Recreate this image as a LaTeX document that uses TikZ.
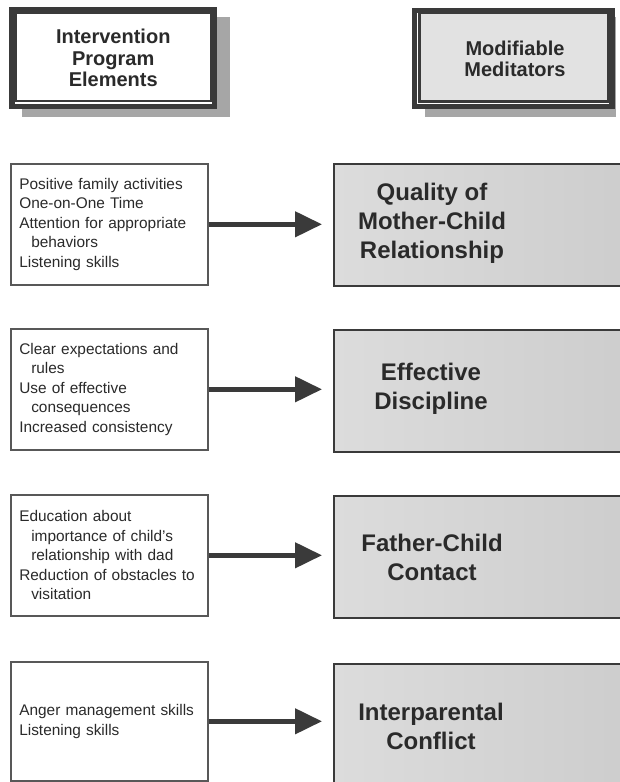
\documentclass[tikz,border=0pt]{standalone}
\usepackage{fontspec}
\setmainfont{Liberation Sans}
\usetikzlibrary{arrows.meta,calc}
\definecolor{ink}{HTML}{2A2A2A}
\definecolor{frame}{HTML}{3A3A3A}
\definecolor{shadowgray}{HTML}{A6A6A6}
\definecolor{fillA}{HTML}{DCDCDC}
\definecolor{fillB}{HTML}{CDCDCD}
\definecolor{hdrfill}{HTML}{E2E2E2}
\begin{document}
\begin{tikzpicture}[x=1pt,y=-1pt,
  header/.style={draw=frame, line width=5.5pt, minimum width=202.5pt,
    minimum height=96.5pt, align=center, text=ink, inner sep=0pt,
    font=\bfseries\fontsize{20}{21.5}\selectfont},
  element/.style={draw=frame!85, line width=1.6pt, fill=white,
    minimum width=197pt, minimum height=121pt, inner xsep=8.5pt,
    text width=180pt, align=left, anchor=north west, text=ink,
    font=\fontsize{15.4}{19.5}\selectfont},
  mediator/.style={draw=frame, line width=1.8pt, left color=fillA,
    right color=fillB, minimum width=300pt, minimum height=122pt,
    anchor=north west, inner sep=0pt},
  medlabel/.style={align=center, text=ink, inner sep=0pt,
    font=\bfseries\fontsize{24}{29}\selectfont},
  link/.style={draw=frame, line width=4.5pt,
    -{Triangle[length=27pt,width=25pt]}, shorten >=11pt}]
\useasboundingbox (0,0) rectangle (619,782);

% column headers with drop shadows and double frames
\fill[shadowgray] (22,17) rectangle (230,117);
\node[header, fill=white] (hdrL) at (113.25,58.25)
  {Intervention\\Program\\Elements};
\draw[frame, line width=2.5pt] ($(hdrL.north west)+(6.7,5.3)$)
  rectangle ($(hdrL.south east)+(-6.5,-8.5)$);

\fill[shadowgray] (425,17) rectangle (616,117);
\node[header, fill=white, minimum width=197.3pt, minimum height=96pt] (hdrR)
  at (513.35,58.3) {};
\fill[hdrfill] ($(hdrR.north west)+(7.3,5)$)
  rectangle ($(hdrR.south east)+(-6.7,-7.6)$);
\draw[frame, line width=2.5pt] ($(hdrR.north west)+(7.3,5)$)
  rectangle ($(hdrR.south east)+(-6.7,-7.6)$);
\node[medlabel, font=\bfseries\fontsize{20}{21}\selectfont] (hdrRtext)
  at (515,59) {Modifiable\\Meditators};

% program elements
\node[element] (e1) at (10,163) {Positive family activities\\
  One-on-One Time\\Attention for appropriate\\
  \hspace*{12pt}behaviors\\Listening skills};
\node[element] (e2) at (10,328) {Clear expectations and\\
  \hspace*{12pt}rules\\Use of effective\\
  \hspace*{12pt}consequences\\Increased consistency};
\node[element] (e3) at (10,494) {Education about\\
  \hspace*{12pt}importance of child's\\
  \hspace*{12pt}relationship with dad\\
  Reduction of obstacles to\\\hspace*{12pt}visitation};
\node[element, minimum height=119pt] (e4) at (10,661)
  {Anger management skills\\Listening skills};

% modifiable mediators
\node[mediator] (m1) at (333,163) {};
\node[mediator] (m2) at (333,329) {};
\node[mediator] (m3) at (333,495) {};
\node[mediator, minimum height=130pt] (m4) at (333,663) {};

\node[medlabel] (t1) at (432,223) {Quality of\\Mother-Child\\Relationship};
\node[medlabel] (t2) at (431,389) {Effective\\Discipline};
\node[medlabel] (t3) at (432,557) {Father-Child\\Contact};
\node[medlabel] (t4) at (431,726) {Interparental\\Conflict};

% links
\draw[link] (e1.east) -- (e1.east -| m1.west);
\draw[link] (e2.east) -- (e2.east -| m2.west);
\draw[link] (e3.east) -- (e3.east -| m3.west);
\draw[link] (e4.east) -- (e4.east -| m4.west);
\end{tikzpicture}
\end{document}
